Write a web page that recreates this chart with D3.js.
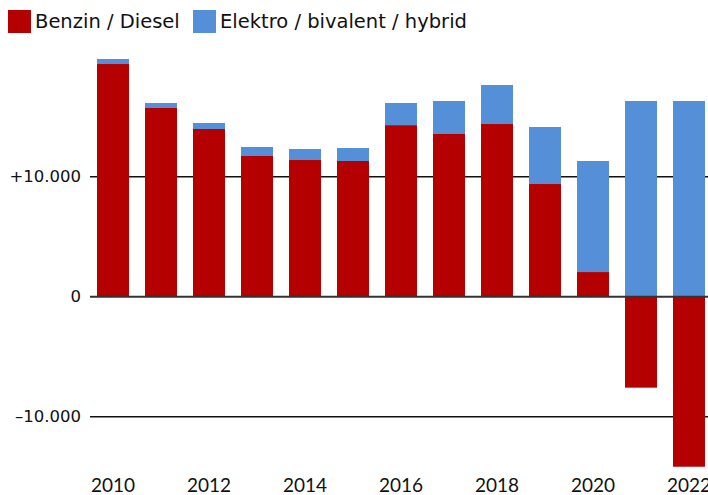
<!DOCTYPE html>
<html>
<head>
<meta charset="utf-8">
<script src="https://cdn.jsdelivr.net/npm/d3@7"></script>
<style>
  html, body { margin: 0; padding: 0; background: #fff; }
  svg { display: block; font-family: "DejaVu Sans", sans-serif; }
</style>
</head>
<body>
<svg id="chart" width="708" height="495"></svg>
<script>
const years = [2010, 2011, 2012, 2013, 2014, 2015, 2016, 2017, 2018, 2019, 2020, 2021, 2022];
const benzinDiesel = [19390, 15725, 13975, 11725, 11390, 11310, 14300, 13560, 14390, 9390, 2055, -7580, -14170];
const elektroHybrid = [420, 415, 500, 750, 920, 1080, 1840, 2750, 3250, 4750, 9255, 16310, 16310];
const yTicks = [-10000, 0, 10000];
const yTickLabels = ["\u201310.000", "0", "+10.000"];
const xTickYears = [2010, 2012, 2014, 2016, 2018, 2020, 2022];
const seriesNames = ["Benzin / Diesel", "Elektro / bivalent / hybrid"];
const seriesColors = ["#b40000", "#548fd7"];

const svg = d3.select("#chart");

const x = d3.scaleBand()
  .domain(years)
  .range([90, 712])
  .paddingInner(1 / 3)
  .paddingOuter(7 / 48);

const y = d3.scaleLinear()
  .domain([-15000, 20000])
  .range([476.7, 56.7]);

// gridlines (non-zero) beneath bars
const grid = svg.append("g");
yTicks.filter(v => v !== 0).forEach(v => {
  grid.append("line")
    .attr("x1", 90).attr("x2", 708)
    .attr("y1", y(v)).attr("y2", y(v))
    .attr("stroke", "#111").attr("stroke-width", 1.5);
});

const rows = years.map((yr, i) => ({ year: yr, red: benzinDiesel[i], blue: elektroHybrid[i] }));

const bars = svg.append("g");
rows.forEach(d => {
  const redTop = Math.max(0, d.red);
  const redBottom = Math.min(0, d.red);
  bars.append("rect")
    .attr("x", x(d.year))
    .attr("width", x.bandwidth())
    .attr("y", y(redTop))
    .attr("height", y(redBottom) - y(redTop))
    .attr("fill", seriesColors[0]);
  const base = Math.max(0, d.red);
  bars.append("rect")
    .attr("x", x(d.year))
    .attr("width", x.bandwidth())
    .attr("y", y(base + d.blue))
    .attr("height", y(base) - y(base + d.blue))
    .attr("fill", seriesColors[1]);
});

// zero line on top
svg.append("line")
  .attr("x1", 90).attr("x2", 708)
  .attr("y1", y(0)).attr("y2", y(0))
  .attr("stroke", "#333").attr("stroke-width", 2);

// y tick labels
const yAxis = d3.axisLeft(y).tickValues(yTicks).tickSize(0)
  .tickFormat((d, i) => yTickLabels[i]);
const yg = svg.append("g").attr("transform", "translate(81,0)").call(yAxis);
yg.select(".domain").remove();
yg.selectAll("text")
  .attr("x", 0)
  .attr("font-family", "'DejaVu Sans', sans-serif")
  .attr("font-size", 16.5)
  .attr("fill", "#111");

// x axis labels
const xAxis = d3.axisBottom(x).tickValues(xTickYears).tickSize(0).tickFormat(d => String(d));
const xg = svg.append("g").attr("transform", "translate(0,475)").call(xAxis);
xg.select(".domain").remove();
xg.selectAll("text")
  .attr("y", 0)
  .attr("dy", "0.9em")
  .attr("font-family", "Lato, sans-serif")
  .attr("font-size", 19)
  .attr("fill", "#111");

// legend
const legend = svg.append("g");
const legendX = [8, 193];
seriesNames.forEach((name, i) => {
  legend.append("rect")
    .attr("x", legendX[i]).attr("y", 10)
    .attr("width", 23).attr("height", 23)
    .attr("fill", seriesColors[i]);
  legend.append("text")
    .attr("x", legendX[i] + 27).attr("y", 27.5)
    .attr("font-family", "'DejaVu Sans', sans-serif")
    .attr("font-size", 19.5)
    .attr("fill", "#111")
    .text(name);
});
</script>
</body>
</html>
